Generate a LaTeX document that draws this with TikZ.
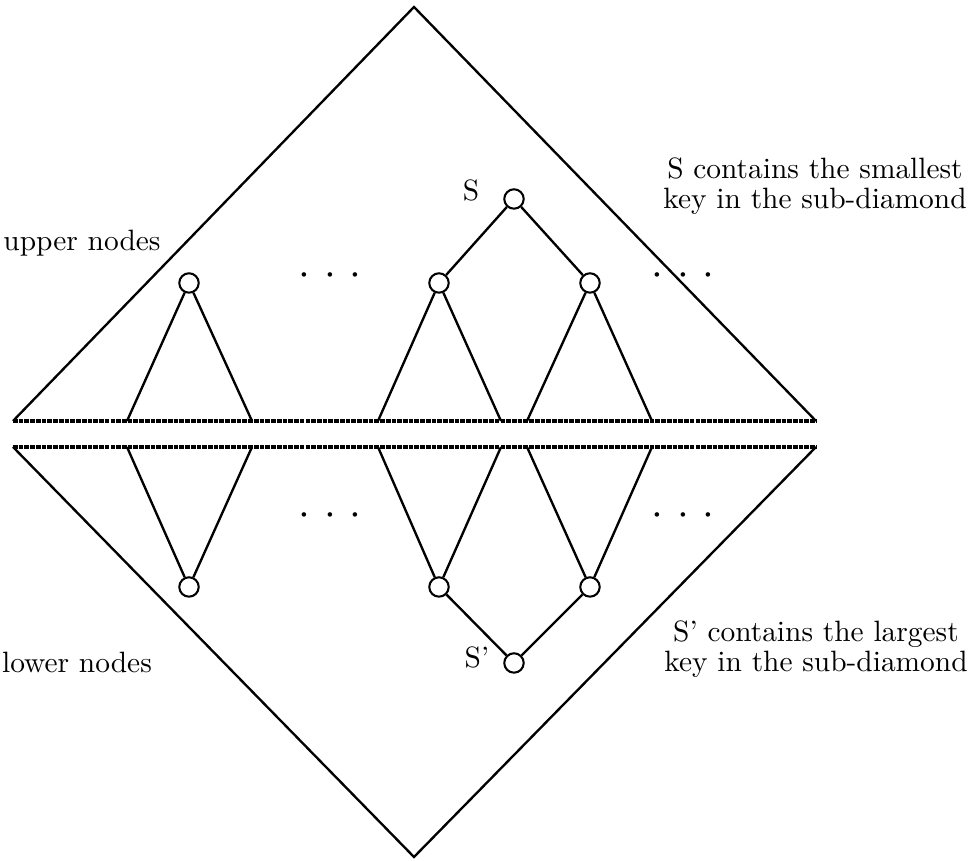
\documentclass[tikz,border=0pt]{standalone}
\begin{document}
\begin{tikzpicture}[x=0.34pt,y=-0.34pt,
  edge/.style={line width=0.8pt},
  baseline/.style={line width=1.1pt,dash pattern=on 1.6pt off 0.35pt},
  keynode/.style={circle,draw,line width=0.7pt,minimum size=6.6pt,inner sep=0pt},
  lbl/.style={font=\fontsize{10}{10}\selectfont,inner sep=0pt,align=center},
  dots/.style={font=\fontsize{14}{14}\selectfont,inner sep=0pt}]
\useasboundingbox (0,0) rectangle (977,861);
% big diamond
\coordinate (top) at (414,7);
\coordinate (bot) at (414,857);
\coordinate (L1) at (13,421);
\coordinate (R1) at (816,421);
\coordinate (L2) at (13,447);
\coordinate (R2) at (816,447);
\draw[edge] (L1) -- (top) -- (R1);
\draw[edge] (L2) -- (bot) -- (R2);
\draw[baseline] (L1) -- (R1);
\draw[baseline] (L2) -- (R2);
% upper nodes
\node[keynode] (u1) at (189,283) {};
\node[keynode] (u2) at (439,283) {};
\node[keynode] (u3) at (590,283) {};
\node[keynode] (s) at (514,199) {};
\coordinate (a1) at (127,421); \coordinate (b1) at (252,421);
\coordinate (a2) at (378,421); \coordinate (b2) at (501,421);
\coordinate (a3) at (527,421); \coordinate (b3) at (652,421);
\draw[edge] (a1) -- (u1) -- (b1);
\draw[edge] (a2) -- (u2) -- (b2);
\draw[edge] (a3) -- (u3) -- (b3);
\draw[edge] (u2) -- (s) -- (u3);
% lower nodes
\node[keynode] (l1) at (189,587) {};
\node[keynode] (l2) at (439,587) {};
\node[keynode] (l3) at (590,587) {};
\node[keynode] (sp) at (514,663) {};
\coordinate (c1) at (127,447); \coordinate (d1) at (252,447);
\coordinate (c2) at (378,447); \coordinate (d2) at (501,447);
\coordinate (c3) at (527,447); \coordinate (d3) at (652,447);
\draw[edge] (c1) -- (l1) -- (d1);
\draw[edge] (c2) -- (l2) -- (d2);
\draw[edge] (c3) -- (l3) -- (d3);
\draw[edge] (l2) -- (sp) -- (l3);
% dots
\node[dots] (dot1) at (330,276) {$\cdot$\hspace{4.6pt}$\cdot$\hspace{4.6pt}$\cdot$};
\node[dots] (dot2) at (683,276) {$\cdot$\hspace{4.6pt}$\cdot$\hspace{4.6pt}$\cdot$};
\node[dots] (dot3) at (330,516) {$\cdot$\hspace{4.6pt}$\cdot$\hspace{4.6pt}$\cdot$};
\node[dots] (dot4) at (683,516) {$\cdot$\hspace{4.6pt}$\cdot$\hspace{4.6pt}$\cdot$};
% labels
\node[lbl] (slbl) at (471,190) {S};
\node[lbl] (splbl) at (477,657) {S'};
\node[lbl] (upper) at (82,243) {upper nodes};
\node[lbl] (lower) at (77,662) {lower nodes};
\node[lbl] (stext) at (815,186) {S contains the smallest\\key in the sub-diamond};
\node[lbl] (sptext) at (816,649) {S' contains the largest\\key in the sub-diamond};
\end{tikzpicture}
\end{document}
